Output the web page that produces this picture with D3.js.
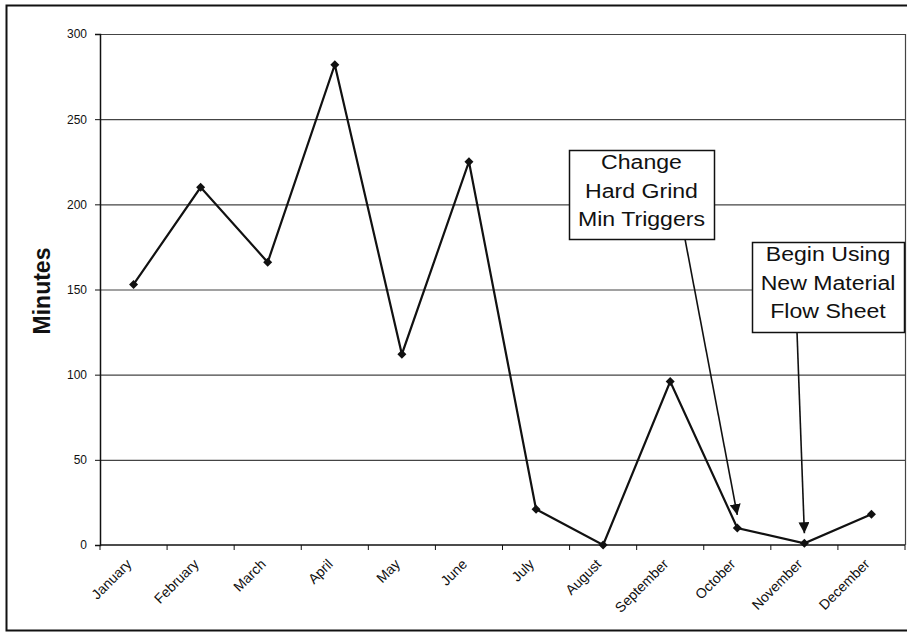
<!DOCTYPE html>
<html>
<head>
<meta charset="utf-8">
<script src="https://cdn.jsdelivr.net/npm/d3@7"></script>
<style>
  html, body { margin: 0; padding: 0; background: #fff; }
  svg { display: block; font-family: Arial, "Liberation Sans", sans-serif; }
</style>
</head>
<body>
<svg id="chart" width="907" height="633"></svg>
<script>
// Monthly minutes
const months = ["January", "February", "March", "April", "May", "June",
                "July", "August", "September", "October", "November", "December"];
const minutes = [153, 210, 166, 282, 112, 225, 21, 0, 96, 10, 1, 18];
const yTicks = [0, 50, 100, 150, 200, 250, 300];

// Callouts: text lines and the month each arrow points to
const noteTriggerLines = ["Change", "Hard Grind", "Min Triggers"];
const noteTriggerMonth = "October";
const noteFlowLines = ["Begin Using", "New Material", "Flow Sheet"];
const noteFlowMonth = "November";

const svg = d3.select("#chart");
const plot = { left: 100, right: 905, top: 34, bottom: 545 };
const ink = "#111";

// outer frame
svg.append("rect")
  .attr("x", 6.5).attr("y", 5.5)
  .attr("width", 920).attr("height", 625)
  .attr("fill", "none").attr("stroke", ink).attr("stroke-width", 2);

const x = d3.scaleBand().domain(months).range([plot.left, plot.right]).padding(0);
const y = d3.scaleLinear().domain([0, 300]).range([plot.bottom, plot.top]);

// horizontal gridlines
svg.append("g")
  .selectAll("line").data(yTicks.filter(d => d > 0)).join("line")
  .attr("x1", plot.left).attr("x2", plot.right)
  .attr("y1", d => y(d) + 0.5).attr("y2", d => y(d) + 0.5)
  .attr("stroke", "#444").attr("stroke-width", 1.2);

// right border of plot
svg.append("line")
  .attr("x1", plot.right + 0.5).attr("x2", plot.right + 0.5)
  .attr("y1", plot.top).attr("y2", plot.bottom)
  .attr("stroke", "#444").attr("stroke-width", 1.2);

// y axis
const yAxis = svg.append("g")
  .attr("transform", `translate(${plot.left},0)`)
  .call(d3.axisLeft(y).tickValues(yTicks).tickSize(5).tickPadding(8));
yAxis.select(".domain").attr("stroke", ink).attr("stroke-width", 1.5);
yAxis.selectAll(".tick line").attr("stroke", ink);
yAxis.selectAll(".tick text")
  .attr("font-size", 12).attr("fill", ink)
  .attr("font-family", "Arial, 'Liberation Sans', sans-serif");

// x axis with ticks at category boundaries
const xAxisG = svg.append("g").attr("transform", `translate(0,${plot.bottom})`);
xAxisG.append("line")
  .attr("x1", plot.left).attr("x2", plot.right)
  .attr("stroke", ink).attr("stroke-width", 1.5);
const boundaries = months.map(m => x(m)).concat([x(months[months.length - 1]) + x.bandwidth()]);
xAxisG.selectAll("line.tk").data(boundaries).join("line")
  .attr("class", "tk")
  .attr("x1", d => d).attr("x2", d => d)
  .attr("y1", 0).attr("y2", 5)
  .attr("stroke", ink);
xAxisG.selectAll("text").data(months).join("text")
  .attr("transform", d => `translate(${x(d) + x.bandwidth() / 2 - 1},${20}) rotate(-45)`)
  .attr("text-anchor", "end")
  .attr("font-size", 14).attr("fill", ink)
  .text(d => d);

// y axis title
svg.append("text")
  .attr("transform", "translate(50,291) rotate(-90)")
  .attr("text-anchor", "middle")
  .attr("font-size", 23).attr("font-weight", "bold").attr("fill", ink)
  .text("Minutes");

// data line
const cx = m => x(m) + x.bandwidth() / 2;
const line = d3.line().x((d, i) => cx(months[i])).y(d => y(d));
svg.append("path")
  .datum(minutes)
  .attr("d", line)
  .attr("fill", "none").attr("stroke", ink).attr("stroke-width", 2.2)
  .attr("stroke-linejoin", "miter");

// diamond markers
svg.append("g").selectAll("path").data(minutes).join("path")
  .attr("transform", (d, i) => `translate(${cx(months[i])},${y(d)})`)
  .attr("d", "M0,-4.5L4.5,0L0,4.5L-4.5,0Z")
  .attr("fill", ink);

// arrowhead marker
svg.append("defs").append("marker")
  .attr("id", "arrow")
  .attr("viewBox", "0 0 10 10")
  .attr("refX", 10).attr("refY", 5)
  .attr("markerWidth", 11).attr("markerHeight", 11)
  .attr("markerUnits", "userSpaceOnUse")
  .attr("orient", "auto")
  .append("path").attr("d", "M0,0L10,5L0,10Z").attr("fill", ink);

function callout(lines, box, from, month, gap) {
  const i = months.indexOf(month);
  const tx = cx(month);
  const ty = y(minutes[i]) - gap;
  svg.append("line")
    .attr("x1", from[0]).attr("y1", from[1])
    .attr("x2", tx).attr("y2", ty)
    .attr("stroke", ink).attr("stroke-width", 1.6)
    .attr("marker-end", "url(#arrow)");
  svg.append("rect")
    .attr("x", box.x + 0.5).attr("y", box.y + 0.5)
    .attr("width", box.w).attr("height", box.h)
    .attr("fill", "#fff").attr("stroke", ink).attr("stroke-width", 1.5);
  svg.append("g").selectAll("text").data(lines).join("text")
    .attr("transform", (d, k) => `translate(${box.x + box.w / 2},${box.y + 19 + k * 28.5}) scale(1.1,1)`)
    .attr("text-anchor", "middle")
    .attr("font-size", 21).attr("fill", ink)
    .text(d => d);
}

callout(noteTriggerLines, { x: 569, y: 150, w: 145, h: 89 }, [685, 239], noteTriggerMonth, 13);
callout(noteFlowLines, { x: 752, y: 242, w: 152, h: 90 }, [797, 332], noteFlowMonth, 10);
</script>
</body>
</html>
